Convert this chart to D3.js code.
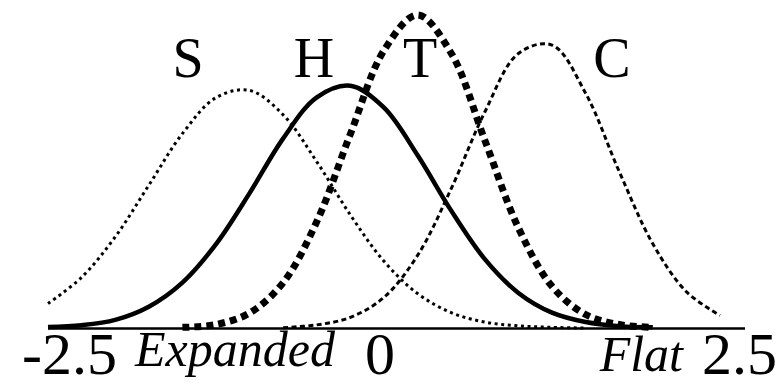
<!DOCTYPE html>
<html>
<head>
<meta charset="utf-8">
<script src="https://cdn.jsdelivr.net/npm/d3@7"></script>
<style>
  body { margin: 0; background: #fff; }
  svg { display: block; }
</style>
</head>
<body>
<script>
var xs = [-2.5, -2.25, -2, -1.75, -1.5, -1.25, -1, -0.75, -0.5, -0.25,
          0, 0.25, 0.5, 0.75, 1, 1.25, 1.5, 1.75, 2, 2.25, 2.5];

// curve heights (relative, tallest peak = 1), null = not drawn
var sVals = [0.078, 0.162, 0.291, 0.456, 0.621, 0.736, 0.759, 0.681, 0.531, 0.361,
             0.213, 0.110, 0.049, 0.019, 0.007, 0.002, 0.000, null, null, null, null];
var hVals = [0.003, 0.009, 0.026, 0.068, 0.145, 0.268, 0.431, 0.606, 0.737, 0.774,
             0.704, 0.552, 0.375, 0.220, 0.112, 0.049, 0.019, 0.006, 0.002, null, null];
var tVals = [null, null, null, null, 0.002, 0.011, 0.048, 0.145, 0.340, 0.620,
             0.887, 1.000, 0.878, 0.600, 0.320, 0.133, 0.043, 0.011, 0.002, null, null];
var cVals = [null, null, null, null, null, null, null, 0.001, 0.010, 0.034,
             0.098, 0.232, 0.445, 0.690, 0.877, 0.904, 0.750, 0.500, 0.269, 0.116, 0.040];

var seriesNames = ["S", "H", "T", "C"];
var tickValues = [-2.5, 0, 2.5];
var tickLabels = ["-2.5", "0", "2.5"];
var poleLabels = ["Expanded", "Flat"];

var width = 783, height = 387;
var serif = "'Liberation Serif', 'Times New Roman', serif";

var svg = d3.select("body").append("svg")
    .attr("width", width)
    .attr("height", height)
    .attr("font-family", serif);

var x = d3.scaleLinear().domain([-2.5, 2.5]).range([48, 720]);
var y = d3.scaleLinear().domain([0, 1]).range([328, 15]);

//line looks per series
var styles = {
    S: {w: 3, dash: "3,3.6"},
    H: {w: 4.5, dash: null},
    T: {w: 7, dash: "7,5"},
    C: {w: 3, dash: "5,3.4"}
};
var labelX = {S: 188, H: 314, T: 420, C: 612};

var series = [sVals, hVals, tVals, cVals].map(function(vals, i) {
    return {
        name: seriesNames[i],
        values: xs.map(function(v, j) { return {x: v, y: vals[j]}; })
                  .filter(function(d) { return d.y !== null; })
    };
});

var line = d3.line()
    .x(function(d) { return x(d.x); })
    .y(function(d) { return y(d.y); })
    .curve(d3.curveCatmullRom.alpha(0.5));

//axis line
svg.append("line")
    .attr("x1", x(-2.5))
    .attr("x2", x(2.5) + 25)
    .attr("y1", y(0) + 0.5)
    .attr("y2", y(0) + 0.5)
    .attr("stroke", "#000")
    .attr("stroke-width", 2.5);

//curves
svg.append("g").selectAll("path")
    .data(series)
    .enter()
    .append("path")
    .attr("d", function(d) { return line(d.values); })
    .attr("fill", "none")
    .attr("stroke", "#000")
    .attr("stroke-width", function(d) { return styles[d.name].w; })
    .attr("stroke-dasharray", function(d) { return styles[d.name].dash; });

//series letters
svg.append("g").selectAll("text")
    .data(seriesNames)
    .enter()
    .append("text")
    .attr("x", function(d) { return labelX[d]; })
    .attr("y", 77)
    .attr("text-anchor", "middle")
    .attr("font-size", 56)
    .text(function(d) { return d; });

//tick labels
var tickPos = [
    {x: x(tickValues[0]) - 26, y: 374, anchor: "start"},
    {x: x(tickValues[1]) - 4, y: 374, anchor: "middle"},
    {x: x(tickValues[2]) + 57, y: 374, anchor: "end"}
];
svg.append("g").selectAll("text")
    .data(tickLabels)
    .enter()
    .append("text")
    .attr("x", function(d, i) { return tickPos[i].x; })
    .attr("y", function(d, i) { return tickPos[i].y; })
    .attr("text-anchor", function(d, i) { return tickPos[i].anchor; })
    .attr("font-size", 60)
    .text(function(d) { return d; });

//pole labels
svg.append("text")
    .attr("x", x(-2.5) + 87)
    .attr("y", 366)
    .attr("font-size", 50)
    .attr("font-style", "italic")
    .text(poleLabels[0]);

svg.append("text")
    .attr("x", x(2.5) - 37)
    .attr("y", 371)
    .attr("text-anchor", "end")
    .attr("font-size", 50)
    .attr("font-style", "italic")
    .text(poleLabels[1]);
</script>
</body>
</html>
